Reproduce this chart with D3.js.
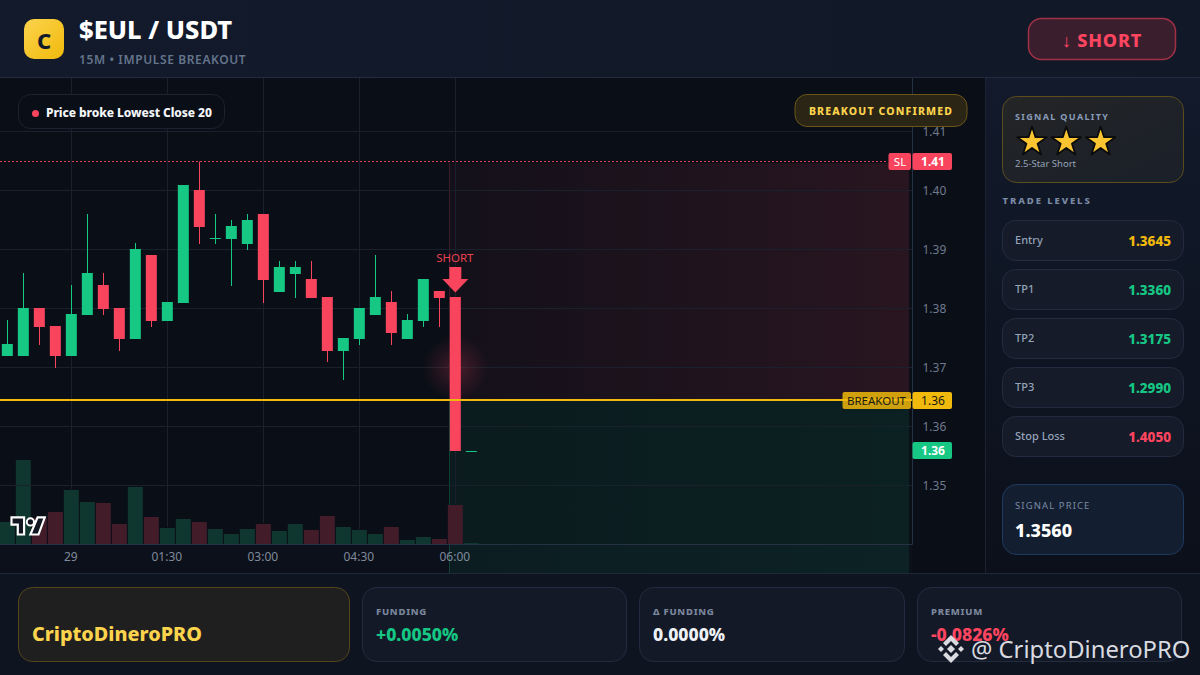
<!DOCTYPE html>
<html><head><meta charset="utf-8">
<script src="https://cdnjs.cloudflare.com/ajax/libs/d3/7.8.5/d3.min.js"></script>
<style>
html,body{margin:0;padding:0;background:#0a0e17;overflow:hidden}
svg{display:block}
text{font-family:"Noto Sans",sans-serif}
</style></head><body>
<svg id="c" width="1200" height="675"></svg>
<script>
const candleOpen =[1.37195,1.37195,1.38008,1.37703,1.37195,1.37890,1.38398,1.38008,1.37483,1.38907,1.37788,1.38093,1.40008,1.39178,1.39178,1.39093,1.39602,1.38280,1.38585,1.38500,1.38195,1.37280,1.37483,1.37890,1.38110,1.37483,1.37788,1.38297,1.38195,1.35585];
const candleClose=[1.37398,1.38008,1.37686,1.37195,1.37907,1.38602,1.37991,1.37483,1.39008,1.37788,1.38110,1.40093,1.39381,1.39195,1.39398,1.39500,1.38483,1.38703,1.38703,1.38178,1.37280,1.37500,1.38008,1.38195,1.37585,1.37805,1.38500,1.38178,1.35593,1.35593];
const candleHigh =[1.37805,1.38602,1.38008,1.37703,1.38398,1.39602,1.38602,1.38008,1.39110,1.38907,1.38110,1.40093,1.40489,1.39602,1.39500,1.39602,1.39602,1.38805,1.38805,1.38805,1.38195,1.37500,1.38008,1.38907,1.38297,1.37907,1.38500,1.38297,1.38195,1.35593];
const candleLow  =[1.37195,1.37195,1.37381,1.36991,1.37195,1.37890,1.37890,1.37280,1.37483,1.37686,1.37788,1.38093,1.39093,1.39093,1.38381,1.38991,1.38093,1.38280,1.38178,1.38178,1.37093,1.36788,1.37381,1.37890,1.37381,1.37483,1.37686,1.37686,1.35593,1.35585];
const volumes    =[22,84,26,32,54,42,41,20,57,27,16,25,22,15,10,15,20,13,20,14,28,17,14,10,17,4,7,5,39,1];
const priceTicks =[1.41,1.40,1.39,1.38,1.37,1.36,1.35];
const timeIndexes=[4,10,16,22,28];
const timeLabels =["29","01:30","03:00","04:30","06:00"];
const slPrice=1.405, breakoutPrice=1.3645, lastPrice=1.3559, glowPrice=1.3699;
const levelNames =["Entry","TP1","TP2","TP3","Stop Loss"];
const levelValues=["1.3645","1.3360","1.3175","1.2990","1.4050"];
const levelColors=["#f0b90b","#16c784","#16c784","#16c784","#ff4560"];
const footNames  =["FUNDING","Δ FUNDING","PREMIUM"];
const footValues =["+0.0050%","0.0000%","-0.0826%"];
const footColors =["#16c784","#eef2f7","#ff4560"];

const GREEN="#17c884", RED="#f8455d", GOLD="#f0b90b", PALE="#fcd34d";
const svg=d3.select("#c");
const defs=svg.append("defs");
function grad(id,stops,x2=1,y2=0){
  const g=defs.append("linearGradient").attr("id",id).attr("x1",0).attr("y1",0).attr("x2",x2).attr("y2",y2);
  stops.forEach(s=>g.append("stop").attr("offset",s[0]).attr("stop-color",s[1]).attr("stop-opacity",s[2]===undefined?1:s[2]));
}
grad("zr",[[0,"#f6465d",.04],[1,"#f6465d",.13]]);
grad("zg",[[0,"#16c784",.07],[1,"#16c784",.1]]);
grad("logo",[[0,"#fcd34d"],[1,"#f0b90b"]],1,1);
grad("side",[[0,"#121a2b"],[1,"#0b101a"]],0,1);
grad("sq",[[0,"#242526"],[1,"#1a1f29"]],1,1);
grad("hdr",[[0,"#121a2b"],[1,"#111827"]]);
const rg=defs.append("radialGradient").attr("id","glow");
rg.append("stop").attr("offset",0).attr("stop-color","#f6465d").attr("stop-opacity",.24);
rg.append("stop").attr("offset",.55).attr("stop-color","#f6465d").attr("stop-opacity",.1);
rg.append("stop").attr("offset",1).attr("stop-color","#f6465d").attr("stop-opacity",0);

function rect(p,x,y,w,h,fill,stroke,r,sw){
  return p.append("rect").attr("x",x).attr("y",y).attr("width",w).attr("height",h).attr("fill",fill)
    .attr("stroke",stroke||"none").attr("stroke-width",sw||1).attr("rx",r||0);
}
function text(p,x,y,s,size,fill,weight,anchor,ls){
  return p.append("text").attr("x",x).attr("y",y).text(s).attr("font-size",size).attr("fill",fill)
    .attr("font-weight",weight||400).attr("text-anchor",anchor||"start").attr("dominant-baseline","central")
    .attr("letter-spacing",ls||0);
}

// scales
const x=d3.scaleLinear().domain([0,29]).range([7.33,471.33]);
const y=d3.scaleLinear().domain([1.35,1.41]).range([485.5,131.5]);
const v=d3.scaleLinear().domain([0,84]).range([544,460]);
const chartR=912.5, axisB=544.5;

// backgrounds
rect(svg,0,78,985,495,"#0a0e17");
rect(svg,0,545,912,28,"#0b101a");

// zones
const zx=449.5, zr=909, zt=y(slPrice)+2, zb=573, by=y(breakoutPrice);
rect(svg,zx,zt,zr-zx,by-zt,"url(#zr)");
rect(svg,zx,by,zr-zx,zb-by,"url(#zg)");
svg.append("line").attr("x1",zx).attr("x2",zx).attr("y1",zt).attr("y2",by).attr("stroke","#f6465d").attr("stroke-opacity",.2);
svg.append("line").attr("x1",zx).attr("x2",zx).attr("y1",by).attr("y2",zb).attr("stroke","#16c784").attr("stroke-opacity",.25);

// volume
const volG=svg.append("g");
volG.selectAll("rect").data(volumes).join("rect")
  .attr("x",(d,i)=>x(i)-7.5).attr("width",15).attr("y",d=>v(d)).attr("height",d=>v(0)-v(d))
  .attr("fill",(d,i)=>candleClose[i]>=candleOpen[i]?"#0f372f":"#431c29");

// grid
const gridG=svg.append("g").attr("stroke","#1a202c").attr("stroke-width",1);
gridG.selectAll("line.h").data(priceTicks).join("line").attr("class","h")
  .attr("x1",0).attr("x2",chartR).attr("y1",d=>y(d)).attr("y2",d=>y(d));
gridG.selectAll("line.v").data(timeIndexes).join("line").attr("class","v")
  .attr("x1",d=>Math.floor(x(d))+.5).attr("x2",d=>Math.floor(x(d))+.5).attr("y1",78).attr("y2",d=>v(volumes[d])-1);

// candles
const cG=svg.append("g");
const col=i=>candleClose[i]>=candleOpen[i]?GREEN:RED;
cG.selectAll("line").data(d3.range(29)).join("line")
  .attr("x1",i=>Math.round(x(i)-.5)+.5).attr("x2",i=>Math.round(x(i)-.5)+.5)
  .attr("y1",i=>y(candleHigh[i])).attr("y2",i=>y(candleLow[i])).attr("stroke",col).attr("stroke-width",1);
cG.selectAll("rect").data(d3.range(30)).join("rect")
  .attr("x",i=>x(i)-5.5).attr("width",11)
  .attr("y",i=>Math.round(y(Math.max(candleOpen[i],candleClose[i]))))
  .attr("height",i=>Math.max(1,Math.round(Math.abs(y(candleOpen[i])-y(candleClose[i])))))
  .attr("fill",col);

// glow
svg.append("circle").attr("cx",x(28)).attr("cy",y(glowPrice)).attr("r",33).attr("fill","url(#glow)");

// SL & breakout lines
svg.append("line").attr("x1",0).attr("x2",chartR-25).attr("y1",y(slPrice)+.5).attr("y2",y(slPrice)+.5)
  .attr("stroke",RED).attr("stroke-dasharray","2 2").attr("stroke-width",1).attr("opacity",.9);
svg.append("line").attr("x1",0).attr("x2",chartR).attr("y1",by).attr("y2",by).attr("stroke",GOLD).attr("stroke-width",2);

// short marker
const ax=x(28);
text(svg,ax-.5,257.5,"SHORT",11.5,"#e8414f",400,"middle");
svg.append("path").attr("d",d3.line()([[ax-6,267],[ax+6,267],[ax+6,279],[ax+13,279],[ax,292.5],[ax-13,279],[ax-6,279]])+"Z").attr("fill",RED);

// axes
svg.append("line").attr("x1",chartR).attr("x2",chartR).attr("y1",78).attr("y2",axisB).attr("stroke","#263145");
svg.append("line").attr("x1",0).attr("x2",chartR).attr("y1",axisB).attr("y2",axisB).attr("stroke","#263145");
const yAxis=svg.append("g").attr("transform",`translate(${chartR},0)`).call(d3.axisRight(y).tickValues(priceTicks).tickFormat(d3.format(".2f")).tickSize(0).tickPadding(10));
yAxis.select(".domain").remove();
yAxis.selectAll("text").attr("fill","#6f7a8e").attr("font-size",12).attr("font-family",'"Noto Sans",sans-serif');
const xAxis=svg.append("g").attr("transform",`translate(-1,${axisB})`).call(d3.axisBottom(x).tickValues(timeIndexes).tickFormat((d,i)=>timeLabels[i]).tickSize(0).tickPadding(8));
xAxis.select(".domain").remove();
xAxis.selectAll("text").attr("fill","#808a9c").attr("font-size",12).attr("font-family",'"Noto Sans",sans-serif');

// price tags
rect(svg,888.5,153,22.5,17,RED,null,2);
text(svg,900,161.8,"SL",11.5,"#fff",400,"middle");
rect(svg,912.5,153,39.5,17,RED,null,2);
text(svg,933,161.8,"1.41",12,"#fff",700,"middle");
rect(svg,842.5,392,68.5,17,GOLD,null,2).attr("fill-opacity",.85);
text(svg,876.5,400.8,"BREAKOUT",11.5,"#1a1a12",400,"middle");
rect(svg,912.5,392,39.5,17,GOLD,null,2);
text(svg,933,400.8,"1.36",12,"#1a1a12",400,"middle");
rect(svg,912.5,442,39.5,17,GREEN,null,2);
text(svg,933,450.8,"1.36",12,"#fff",700,"middle");

// TV logo
const tv=svg.append("g").attr("transform","translate(11.5,516.5) scale(0.9)");
tv.append("path").attr("d","M14 20H7V9H0V1h14zM30 20h-9l8-19h8z").attr("fill","#131722").attr("stroke","#fff").attr("stroke-width",2.4);
tv.append("circle").attr("cx",21).attr("cy",6).attr("r",4).attr("fill","#131722").attr("stroke","#fff").attr("stroke-width",2.2);

// pills on chart
rect(svg,18.5,94.5,206,34,"#0a0e17","#1c2230",12);
svg.append("circle").attr("cx",35.5).attr("cy",113.5).attr("r",3.5).attr("fill",RED);
text(svg,46,112.5,"Price broke Lowest Close 20",12,"#f4f6f9",800,"start",-.08);
rect(svg,795,94.5,172,32,"#2a2515","#6b5518",12);
text(svg,881,111,"BREAKOUT CONFIRMED",10.5,PALE,800,"middle",1.15);

// header
rect(svg,0,0,1200,78,"url(#hdr)");
svg.append("line").attr("x1",0).attr("x2",1200).attr("y1",77.5).attr("y2",77.5).attr("stroke","#232c3e");
rect(svg,24,19,40,40,"url(#logo)",null,10);
text(svg,44,40,"C",22,"#131a2a",800,"middle");
text(svg,79,28.5,"$EUL / USDT",25.5,"#fff",800);
text(svg,79,59,"15M • IMPULSE BREAKOUT",12,"#64748b",600,"start",.62);
rect(svg,1028.5,18.5,147,41,"#3a1e2e","#a03045",13,1.5);
text(svg,1102,40,"↓ SHORT",18,"#ff4560",800,"middle",.8);

// side panel
rect(svg,985,78,215,495,"url(#side)");
svg.append("line").attr("x1",985.5).attr("x2",985.5).attr("y1",78).attr("y2",573).attr("stroke","#1a2233");
rect(svg,1002.5,96.5,181,86,"url(#sq)","#5c4d1f",14);
text(svg,1015,116,"SIGNAL QUALITY",9,"#8a9bb8",700,"start",1.35);
const star=d3.symbol().type(d3.symbolStar).size(270);
svg.append("g").selectAll("path").data([0,1,2]).join("path")
  .attr("d",star()).attr("transform",i=>`translate(${1032+i*34.3},142)`)
  .attr("fill","#fbc531").attr("stroke","#0b0b0b").attr("stroke-width",1.8).attr("stroke-linejoin","round");
text(svg,1015,163.5,"2.5-Star Short",9.5,"#94a3b8",400);
text(svg,1002.5,200,"TRADE LEVELS",9.5,"#7b8aa5",800,"start",1.9);
const rowH=d3.scaleLinear().domain([0,4]).range([220.5,416.5]);
levelNames.forEach((n,i)=>{
  rect(svg,1002.5,rowH(i),181,40,"#151b29","#232c3f",13);
  text(svg,1015,rowH(i)+18.5,n,11,"#94a3b8",500);
  text(svg,1171,rowH(i)+20,levelValues[i],13.5,levelColors[i],800,"end");
});
rect(svg,1002.5,484.5,181,70,"#131e30","#1e3a5f",14);
text(svg,1015,505.5,"SIGNAL PRICE",9.5,"#7b8aa5",400,"start",1.1);
text(svg,1015,529.5,"1.3560",18,"#fff",800);

// footer
rect(svg,0,573,1200,102,"#0e1420");
svg.append("line").attr("x1",0).attr("x2",1200).attr("y1",573.5).attr("y2",573.5).attr("stroke","#1f2839");
rect(svg,18.5,587.5,331,74,"#1f1f1f","#55461a",14);
text(svg,32,633,"CriptoDineroPRO",19.8,PALE,800);
const footX=[362.5,639.5,917.5], footW=[264,265,264];
footNames.forEach((n,i)=>{
  rect(svg,footX[i],587.5,footW[i],74,"#131927","#232c3f",14);
  text(svg,footX[i]+13.5,611,n,9.5,"#7b879d",800,"start",.75);
  text(svg,footX[i]+13.5,634,footValues[i],17.6,footColors[i],800);
});

// watermark
const wm=svg.append("g").attr("fill","#d9dbe0");
const gBin=wm.append("g").attr("transform","translate(951,649)");
gBin.append("path").attr("d","M0 -14L8 -6L5 -3L0 -8L-5 -3L-8 -6Z");
gBin.append("path").attr("d","M0 14L8 6L5 3L0 8L-5 3L-8 6Z");
gBin.append("path").attr("d","M0 -4L4 0L0 4L-4 0Z");
gBin.append("path").attr("d","M-10 -3L-7 0L-10 3L-13 0Z");
gBin.append("path").attr("d","M10 -3L13 0L10 3L7 0Z");
wm.append("text").attr("x",971).attr("y",648.5).attr("dominant-baseline","central").attr("font-size",23.8).attr("fill","#d9dbe0").text("@ CriptoDineroPRO");
</script>
</body></html>
